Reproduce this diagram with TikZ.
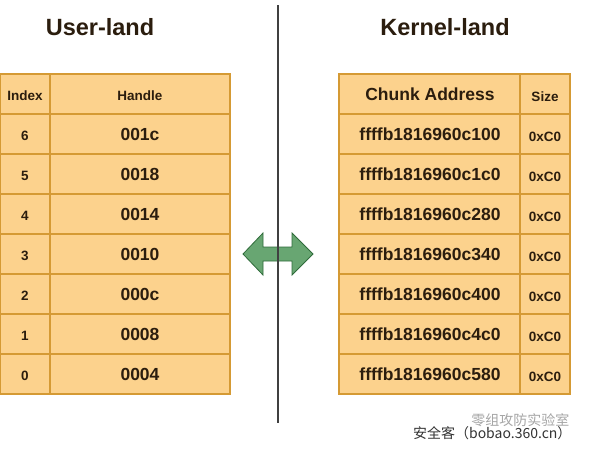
\documentclass[tikz,border=0pt]{standalone}
\usepackage{fontspec}
\setmainfont{Liberation Sans}
\newfontfamily\cjk{Noto Sans CJK SC}
\definecolor{cellfill}{HTML}{FCD28D}
\definecolor{celldraw}{HTML}{D59A34}
\definecolor{txt}{HTML}{2B1D0E}
\definecolor{arrfill}{HTML}{68A672}
\definecolor{arrdraw}{HTML}{2F6B3A}
\tikzset{
  grid line/.style={draw=celldraw, line width=1.4pt},
  big/.style={text=txt, font=\fontsize{17.5}{20}\selectfont\bfseries},
  small/.style={text=txt, font=\fontsize{13.5}{16}\selectfont\bfseries},
  title/.style={text=txt, font=\fontsize{23.5}{27}\selectfont\bfseries},
}
\begin{document}
\begin{tikzpicture}[x=1pt,y=-1pt]
\useasboundingbox (0,0) rectangle (590,448);
\fill[white] (0,0) rectangle (590,448);
% titles
\node[title] (ut) at (100,27) {User-land};
\node[title] (kt) at (445,27) {Kernel-land};
% divider
\coordinate (dtop) at (278,5);
\coordinate (dbot) at (278,423);
% left table
\fill[cellfill] (0,74) rectangle (230,394);
\draw[grid line] (0,74) -- (230,74) -- (230,394) -- (0,394);
\draw[grid line] (0.7,74) -- (0.7,394);
\draw[grid line] (50,74) -- (50,394);
\foreach \yy in {114,154,194,234,274,314,354} {
  \draw[grid line] (0,\yy) -- (230,\yy);
}
\node[small] (hi) at (25,96) {Index};
\node[small] (hh) at (140,96) {Handle};
\foreach \i/\h [count=\k from 0] in {6/001c,5/0018,4/0014,3/0010,2/000c,1/0008,0/0004} {
  \node[small] (li\i) at (25,{136+40*\k}) {\i};
  \node[big] (lh\i) at (140,{134+40*\k}) {\h};
}
% right table
\fill[cellfill] (339,74) rectangle (570,394);
\draw[grid line] (339,74) rectangle (570,394);
\draw[grid line] (520,74) -- (520,394);
\foreach \yy in {114,154,194,234,274,314,354} {
  \draw[grid line] (339,\yy) -- (570,\yy);
}
\node[big] (hc) at (430,94) {Chunk Address};
\node[small] (hs) at (545,97) {Size};
\foreach \a [count=\k from 0] in {c100,c1c0,c280,c340,c400,c4c0,c580} {
  \node[big] (ra\k) at (430,{134+40*\k}) {ffffb1816960\a};
  \node[small] (rs\k) at (545,{137+40*\k}) {0xC0};
}
% double arrow
\draw[draw=arrdraw, fill=arrfill, line width=0.8pt, line join=miter]
  (243,254) -- (263,233) -- (263,247) -- (292,247) -- (292,233) -- (313,254)
  -- (292,275) -- (292,261) -- (263,261) -- (263,275) -- cycle;
\draw[line width=2pt, color=black!75] (dtop) -- (dbot);
% watermark
\node[text=black!35, font=\cjk\fontsize{14}{16}\selectfont, anchor=east] (wm1) at (573,420) {零组攻防实验室};
\node[text=black!80, font=\cjk\fontsize{14}{16}\selectfont, anchor=east] (wm2) at (575,433) {安全客（bobao.360.cn）};
\end{tikzpicture}
\end{document}
